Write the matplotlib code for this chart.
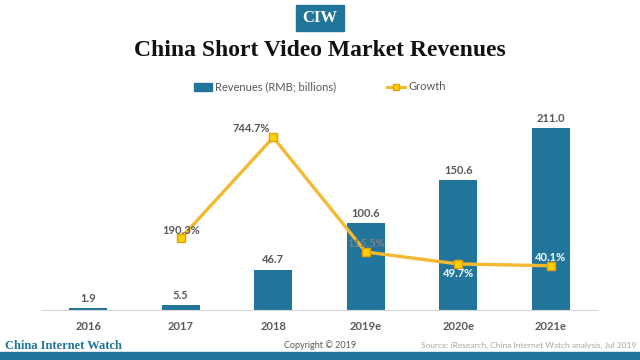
import matplotlib
matplotlib.use("Agg")
import matplotlib.pyplot as plt
from matplotlib.patches import Rectangle
from matplotlib.lines import Line2D
import numpy as np

years = ["2016", "2017", "2018", "2019e", "2020e", "2021e"]
revenues = [1.9, 5.5, 46.7, 100.6, 150.6, 211.0]
growth_years = ["2017", "2018", "2019e", "2020e", "2021e"]
growth = [190.3, 744.7, 115.5, 49.7, 40.1]

BLUE = "#21759b"
LINE = "#f4b932"
MARK = "#ffd000"
GREY = "#595959"

plt.rcParams["font.family"] = ["Lato", "DejaVu Sans"]

fig = plt.figure(figsize=(6.4, 3.6), dpi=100)
W, H = 640, 360

# axes: x 42..597, y 110..310 (pixels from top)
ax = fig.add_axes([42 / W, (H - 310) / H, 555 / W, 200 / H])
x = np.arange(len(years))
ax.bar(x, revenues, width=0.41, color=BLUE, zorder=1)
ax.set_xlim(-0.5, len(years) - 0.5)
ax.set_ylim(0, 231.9)
for xi, v in zip(x, revenues):
    ax.text(xi, v + 5, f"{v:.1f}", ha="center", va="bottom", fontsize=8,
            color=GREY, fontweight="bold")
ax.set_xticks(x)
ax.set_xticklabels(years, fontsize=8, color=GREY, fontweight="bold")
ax.tick_params(axis="x", length=0, pad=8)
ax.set_yticks([])
for s in ["top", "right", "left"]:
    ax.spines[s].set_visible(False)
ax.spines["bottom"].set_color("#d9d9d9")

ax2 = ax.twinx()
gx = [years.index(y) for y in growth_years]
ax2.plot(gx, growth, color=LINE, lw=2.4, marker="s", ms=6,
         mfc=MARK, mec="#e8a200", mew=1, zorder=3)
ax2.set_ylim(-203, 895)
ax2.axis("off")
# (dx, dy, colour) offsets for growth labels
label_pos = [(0, 45, GREY), (-0.24, 50, GREY), (0, 45, "#7f7f7f"),
             (0, -50, "white"), (0, 45, "white")]
for xi, g, (dx, dy, c) in zip(gx, growth, label_pos):
    ax2.text(xi + dx, g + dy, f"{g:.1f}%", ha="center", va="center", fontsize=8,
             color=c, fontweight="bold")

# legend
legend_handles = [
    Rectangle((0, 0), 1, 1, color=BLUE),
    Line2D([0], [0], color=LINE, lw=2.2, marker="s", ms=5, mfc=MARK, mec="#e8a200"),
]
fig.legend(legend_handles, ["Revenues (RMB; billions)", "Growth"],
           loc="center", bbox_to_anchor=(0.5, (H - 87) / H), ncol=2,
           frameon=False, fontsize=8, labelcolor=GREY, handlelength=1.6,
           handletextpad=0.3, columnspacing=4.6)

# title
fig.text(0.5, (H - 50) / H, "China Short Video Market Revenues", ha="center",
         va="center", fontsize=17, fontweight="bold", family="Liberation Serif",
         color="#111111")

# CIW badge
fig.patches.append(Rectangle((296 / W, (H - 31) / H), 48 / W, 26 / H,
                             transform=fig.transFigure, color=BLUE))
fig.text(320 / W, (H - 18) / H, "CIW", ha="center", va="center", fontsize=12,
         fontweight="bold", family="Liberation Serif", color="white")

# footer
fig.patches.append(Rectangle((0, 0), 1, 8 / H, transform=fig.transFigure,
                             color=BLUE))
fig.text(5 / W, (H - 346) / H, "China Internet Watch", ha="left", va="center",
         fontsize=9, fontweight="bold", family="Liberation Serif", color=BLUE)
fig.text(320 / W, (H - 345) / H, "Copyright © 2019", ha="center", va="center",
         fontsize=6.5, color=GREY)
fig.text(636 / W, (H - 345) / H,
         "Source: iResearch, China Internet Watch analysis, Jul 2019",
         ha="right", va="center", fontsize=6, color="#a6a6a6")

fig.savefig("out.png", dpi=100)
